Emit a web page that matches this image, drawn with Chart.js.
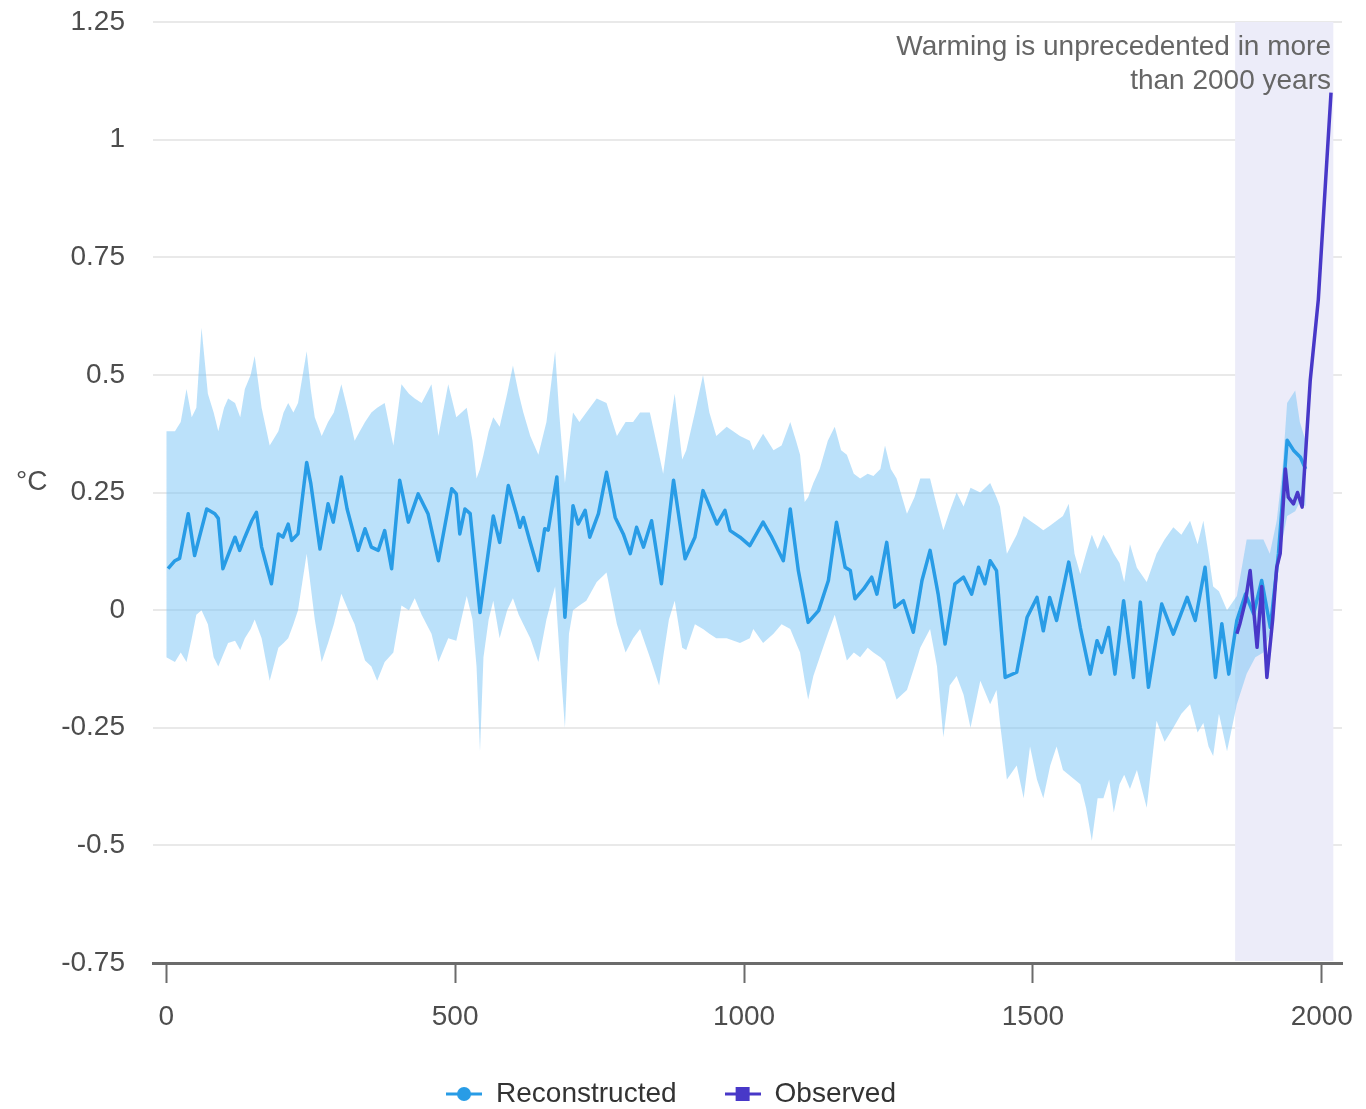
<!DOCTYPE html>
<html>
<head>
<meta charset="utf-8">
<title>Global surface temperature change</title>
<script src="https://cdn.jsdelivr.net/npm/chart.js@4/dist/chart.umd.min.js"></script>
<style>
  html, body { margin: 0; padding: 0; background: #ffffff; overflow: hidden; }
  #wrap { width: 1366px; height: 1118px; position: relative; }
</style>
</head>
<body>
<div id="wrap"><canvas id="chart"></canvas></div>
<script>
// Reconstructed global surface temperature (°C), mean line
const recYears = [3, 15, 23, 38, 49, 70, 84, 90, 98, 119, 127, 136, 148, 156, 165, 182, 194, 202, 211, 217,
  228, 243, 250, 266, 280, 289, 303, 313, 332, 344, 355, 367, 378, 390, 404, 419, 436, 453, 471, 494,
  502, 508, 517, 526, 543, 566, 577, 592, 606, 612, 618, 629, 644, 655, 661, 676, 690, 704, 713, 725,
  733, 748, 762, 777, 791, 803, 814, 826, 840, 857, 878, 898, 915, 929, 953, 967, 976, 993, 1010, 1033,
  1048, 1068, 1080, 1094, 1111, 1129, 1146, 1160, 1175, 1184, 1192, 1207, 1221, 1230, 1247, 1261, 1276, 1293, 1308, 1322,
  1336, 1348, 1365, 1380, 1394, 1406, 1417, 1426, 1437, 1452, 1472, 1490, 1507, 1518, 1529, 1541, 1562, 1582, 1599, 1611,
  1619, 1631, 1642, 1657, 1674, 1686, 1700, 1723, 1743, 1767, 1781, 1798, 1816, 1827, 1839, 1853, 1868, 1882, 1896, 1911,
  1925, 1940, 1951, 1963, 1972];
const recValues = [0.088, 0.105, 0.11, 0.205, 0.116, 0.215, 0.205, 0.195, 0.088, 0.155, 0.127, 0.155, 0.19, 0.208, 0.134, 0.056, 0.162, 0.155, 0.183, 0.148,
  0.162, 0.314, 0.27, 0.13, 0.226, 0.187, 0.283, 0.215, 0.127, 0.173, 0.134, 0.127, 0.169, 0.088, 0.276, 0.187, 0.247, 0.205, 0.105, 0.258,
  0.247, 0.162, 0.215, 0.205, -0.005, 0.2, 0.144, 0.265, 0.205, 0.176, 0.197, 0.148, 0.084, 0.173, 0.17, 0.283, -0.015, 0.222, 0.183, 0.212,
  0.155, 0.205, 0.293, 0.197, 0.162, 0.12, 0.176, 0.134, 0.19, 0.056, 0.276, 0.109, 0.155, 0.254, 0.183, 0.212, 0.169, 0.155, 0.137, 0.187,
  0.155, 0.105, 0.215, 0.084, -0.026, -0.001, 0.063, 0.187, 0.091, 0.084, 0.024, 0.045, 0.07, 0.034, 0.144, 0.006, 0.02, -0.047, 0.063, 0.127,
  0.034, -0.072, 0.056, 0.07, 0.034, 0.091, 0.056, 0.105, 0.084, -0.143, -0.132, -0.015, 0.027, -0.044, 0.027, -0.022, 0.102, -0.037, -0.136, -0.065,
  -0.09, -0.037, -0.136, 0.02, -0.143, 0.017, -0.164, 0.013, -0.051, 0.027, -0.022, 0.091, -0.143, -0.029, -0.136, -0.022, 0.034, -0.008, 0.063, -0.037,
  0.12, 0.361, 0.34, 0.325, 0.30];

// Reconstruction uncertainty range (upper / lower bound, °C)
const bandYears = [0, 15, 25, 35, 44, 52, 61, 72, 82, 90, 100, 107, 119, 128, 136, 146, 153, 165, 179, 194,
  203, 211, 220, 228, 243, 250, 257, 269, 280, 290, 303, 315, 326, 335, 344, 355, 365, 378, 393, 407,
  420, 430, 442, 459, 471, 488, 502, 520, 530, 537, 543, 549, 558, 566, 577, 590, 600, 610, 618, 630,
  644, 658, 673, 680, 690, 697, 704, 715, 727, 745, 762, 780, 795, 808, 820, 837, 853, 860, 870, 880,
  893, 900, 915, 929, 940, 952, 970, 993, 1010, 1016, 1033, 1051, 1065, 1080, 1090, 1097, 1105, 1111, 1120, 1131,
  1145, 1157, 1168, 1178, 1190, 1201, 1214, 1224, 1236, 1244, 1254, 1264, 1282, 1295, 1305, 1322, 1334, 1345, 1356, 1368,
  1380, 1392, 1409, 1426, 1437, 1443, 1455, 1472, 1484, 1495, 1507, 1518, 1530, 1541, 1552, 1562, 1572, 1582, 1592, 1602,
  1612, 1622, 1632, 1640, 1650, 1658, 1668, 1680, 1697, 1714, 1728, 1743, 1757, 1772, 1785, 1795, 1804, 1812, 1822, 1836,
  1853, 1870, 1885, 1899, 1910, 1922, 1932, 1940, 1954, 1962, 1972];
const bandUpper = [0.38, 0.38, 0.40, 0.47, 0.41, 0.43, 0.60, 0.46, 0.42, 0.38, 0.43, 0.45, 0.44, 0.41, 0.47, 0.50, 0.54, 0.43, 0.35, 0.38,
  0.42, 0.44, 0.42, 0.44, 0.55, 0.47, 0.41, 0.37, 0.40, 0.42, 0.48, 0.42, 0.36, 0.38, 0.40, 0.42, 0.43, 0.44, 0.35, 0.48,
  0.46, 0.45, 0.44, 0.48, 0.37, 0.48, 0.41, 0.43, 0.36, 0.28, 0.30, 0.33, 0.38, 0.41, 0.39, 0.46, 0.52, 0.46, 0.42, 0.37,
  0.33, 0.40, 0.55, 0.42, 0.27, 0.35, 0.42, 0.40, 0.42, 0.45, 0.44, 0.37, 0.40, 0.40, 0.42, 0.42, 0.33, 0.29, 0.38, 0.46,
  0.32, 0.34, 0.42, 0.50, 0.42, 0.37, 0.39, 0.37, 0.36, 0.34, 0.375, 0.34, 0.35, 0.40, 0.36, 0.33, 0.23, 0.24, 0.27, 0.30,
  0.36, 0.39, 0.34, 0.33, 0.29, 0.28, 0.29, 0.285, 0.30, 0.35, 0.30, 0.28, 0.205, 0.24, 0.28, 0.28, 0.22, 0.17, 0.21, 0.25,
  0.22, 0.26, 0.25, 0.27, 0.24, 0.22, 0.12, 0.16, 0.20, 0.19, 0.18, 0.17, 0.18, 0.19, 0.20, 0.226, 0.12, 0.077, 0.12, 0.16,
  0.13, 0.16, 0.14, 0.12, 0.10, 0.06, 0.14, 0.09, 0.06, 0.12, 0.15, 0.176, 0.16, 0.19, 0.14, 0.19, 0.12, 0.05, 0.04, 0.00,
  0.03, 0.15, 0.15, 0.15, 0.12, 0.19, 0.30, 0.44, 0.467, 0.40, 0.36];
const bandLower = [-0.10, -0.11, -0.09, -0.11, -0.06, -0.01, 0.00, -0.03, -0.10, -0.12, -0.09, -0.07, -0.065, -0.085, -0.06, -0.04, -0.02, -0.06, -0.15, -0.08,
  -0.07, -0.06, -0.03, 0.00, 0.12, 0.05, -0.02, -0.11, -0.07, -0.03, 0.035, 0.00, -0.03, -0.07, -0.107, -0.12, -0.15, -0.11, -0.09, 0.01,
  0.00, 0.025, -0.01, -0.05, -0.11, -0.06, -0.065, 0.03, -0.02, -0.12, -0.30, -0.10, -0.02, 0.02, -0.06, 0.00, 0.025, -0.01, -0.03, -0.06,
  -0.11, -0.02, 0.05, -0.08, -0.25, -0.05, 0.00, 0.01, 0.02, 0.06, 0.08, -0.03, -0.09, -0.06, -0.04, -0.10, -0.16, -0.10, -0.02, 0.02,
  -0.08, -0.085, -0.03, -0.04, -0.05, -0.06, -0.06, -0.07, -0.06, -0.04, -0.07, -0.05, -0.03, -0.04, -0.07, -0.09, -0.15, -0.19, -0.14, -0.10,
  -0.05, -0.01, -0.06, -0.107, -0.09, -0.10, -0.08, -0.09, -0.10, -0.11, -0.15, -0.19, -0.17, -0.12, -0.08, -0.04, -0.12, -0.27, -0.16, -0.14,
  -0.18, -0.25, -0.15, -0.20, -0.17, -0.24, -0.36, -0.33, -0.40, -0.29, -0.36, -0.40, -0.33, -0.29, -0.34, -0.35, -0.36, -0.37, -0.42, -0.49,
  -0.40, -0.40, -0.36, -0.43, -0.37, -0.35, -0.38, -0.34, -0.42, -0.235, -0.28, -0.25, -0.22, -0.20, -0.26, -0.24, -0.29, -0.31, -0.22, -0.30,
  -0.20, -0.135, -0.10, -0.09, -0.05, 0.07, 0.15, 0.20, 0.21, 0.23, 0.22];

// Observed global surface temperature (°C)
const obsYears = [1853, 1858, 1868, 1876, 1888, 1896, 1905, 1915, 1922, 1928, 1937, 1942, 1951, 1958, 1966, 1980, 1994, 2006, 2016];
const obsValues = [-0.05, -0.03, 0.02, 0.084, -0.079, 0.05, -0.143, -0.02, 0.091, 0.12, 0.30, 0.24, 0.226, 0.25, 0.219, 0.488, 0.66, 0.90, 1.10];

// Axis ticks, highlighted period and texts
const xTicks = [0, 500, 1000, 1500, 2000];
const yTicks = [-0.75, -0.5, -0.25, 0, 0.25, 0.5, 0.75, 1, 1.25];
const recentPeriod = [1850, 2020];
const seriesNames = ['Reconstructed', 'Observed'];
const unitLabel = '°C';
const noteLines = ['Warming is unprecedented in more', 'than 2000 years'];

const FONT = '"Liberation Sans", Arial, sans-serif';
const RECON_COLOR = 'rgb(40,156,230)';
const OBS_COLOR = 'rgb(72,56,200)';
const TICK_COLOR = '#4d4d4d';

const zip = (xs, ys) => xs.map((x, i) => ({ x: x, y: ys[i] }));

// Legend symbol: short line with a marker in the middle
function legendMark(color, shape) {
  const c = document.createElement('canvas');
  c.width = 36; c.height = 16;
  const g = c.getContext('2d');
  g.strokeStyle = color; g.lineWidth = 3;
  g.beginPath(); g.moveTo(0, 8); g.lineTo(36, 8); g.stroke();
  g.fillStyle = color;
  if (shape === 'circle') {
    g.beginPath(); g.arc(18, 8, 7, 0, Math.PI * 2); g.fill();
  } else {
    g.fillRect(11, 1, 14, 14);
  }
  return c;
}

const decor = {
  id: 'decor',
  beforeDatasetsDraw(chart) {
    const { ctx, chartArea, scales } = chart;
    const x0 = scales.x.getPixelForValue(recentPeriod[0]);
    const x1 = scales.x.getPixelForValue(recentPeriod[1]);
    ctx.save();
    ctx.fillStyle = '#ececf9';
    ctx.fillRect(x0, chartArea.top, x1 - x0, chartArea.bottom - chartArea.top - 2);
    ctx.restore();
  },
  afterDraw(chart) {
    const { ctx, chartArea, scales } = chart;
    ctx.save();
    ctx.font = '28px ' + FONT;
    ctx.fillStyle = TICK_COLOR;
    ctx.textAlign = 'left';
    ctx.textBaseline = 'middle';
    ctx.fillText(unitLabel, 16, scales.y.getPixelForValue(0.25) - 10);
    ctx.fillStyle = '#666666';
    ctx.textAlign = 'right';
    noteLines.forEach((line, i) => {
      ctx.fillText(line, chartArea.right - 11, chartArea.top + 25 + i * 34);
    });
    ctx.restore();
  }
};

new Chart(document.getElementById('chart'), {
  type: 'line',
  data: {
    datasets: [
      {
        label: 'Range low',
        data: zip(bandYears, bandLower),
        borderWidth: 0,
        pointRadius: 0,
        order: 2,
        fill: false
      },
      {
        label: 'Range high',
        data: zip(bandYears, bandUpper),
        borderWidth: 0,
        pointRadius: 0,
        backgroundColor: 'rgba(125,198,245,0.52)',
        order: 2,
        fill: '-1'
      },
      {
        label: seriesNames[0],
        data: zip(recYears, recValues),
        borderColor: RECON_COLOR,
        backgroundColor: RECON_COLOR,
        borderWidth: 3.5,
        borderJoinStyle: 'round',
        pointRadius: 0,
        pointStyle: legendMark(RECON_COLOR, 'circle'),
        order: 1,
        fill: false
      },
      {
        label: seriesNames[1],
        data: zip(obsYears, obsValues),
        borderColor: OBS_COLOR,
        backgroundColor: OBS_COLOR,
        borderWidth: 3.5,
        borderJoinStyle: 'round',
        pointRadius: 0,
        pointStyle: legendMark(OBS_COLOR, 'rect'),
        order: 0,
        fill: false
      }
    ]
  },
  options: {
    responsive: true,
    maintainAspectRatio: false,
    animation: false,
    layout: { padding: { top: 22, right: 24, bottom: 0, left: 0 } },
    elements: { line: { tension: 0 } },
    plugins: {
      tooltip: { enabled: false },
      legend: {
        position: 'bottom',
        labels: {
          filter: (item) => item.datasetIndex >= 2,
          sort: (a, b) => a.datasetIndex - b.datasetIndex,
          usePointStyle: true,
          pointStyleWidth: 36,
          padding: 48,
          color: '#333333',
          font: { family: FONT, size: 28 }
        }
      }
    },
    scales: {
      x: {
        type: 'linear',
        min: -23,
        max: 2035,
        afterBuildTicks: (s) => { s.ticks = xTicks.map(v => ({ value: v })); },
        afterFit: (s) => { s.height = 69; s.paddingLeft = 0; s.paddingRight = 0; },
        grid: {
          drawOnChartArea: false,
          drawTicks: true,
          tickLength: 20,
          tickColor: '#6b6b6b',
          tickWidth: 2
        },
        border: { display: true, color: '#6b6b6b', width: 3 },
        ticks: {
          padding: 17,
          maxRotation: 0,
          color: TICK_COLOR,
          font: { family: FONT, size: 28 },
          callback: (v) => String(v)
        }
      },
      y: {
        min: -0.75,
        max: 1.25,
        afterBuildTicks: (s) => { s.ticks = yTicks.map(v => ({ value: v })); },
        afterFit: (s) => { s.width = 153; s.paddingTop = 0; s.paddingBottom = 0; },
        grid: { color: '#e9e9e9', lineWidth: 2, drawTicks: false },
        border: { display: false },
        ticks: {
          padding: 28,
          color: TICK_COLOR,
          font: { family: FONT, size: 28 },
          callback: (v) => String(v)
        }
      }
    }
  },
  plugins: [decor]
});
</script>
</body>
</html>
